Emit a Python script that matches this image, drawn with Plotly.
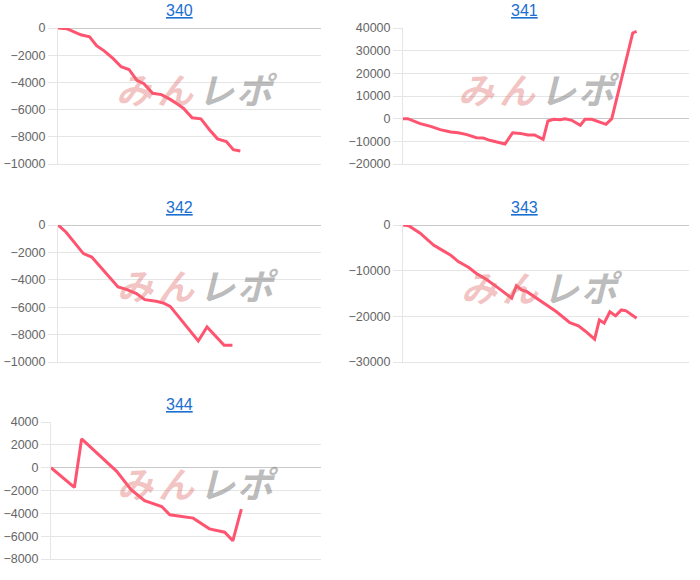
import plotly.graph_objects as go

# ---------------- data ----------------
titles = ["340", "341", "342", "343", "344"]

x340 = [0, 1.0, 2.6, 3.6, 4.4, 5.3, 6.3, 7.2, 8.1, 9.0, 9.8, 10.8, 11.8, 12.8, 13.7, 14.3, 15.3, 16.3, 17.3, 18.2, 19.2, 20.0, 20.8]
y340 = [0, -50, -500, -650, -1300, -1700, -2250, -2850, -3050, -3850, -4100, -4800, -4900, -5250, -5630, -5900, -6600, -6680, -7500, -8150, -8350, -8950, -9050]

x341 = [0, 0.5, 1.8, 2.9, 3.9, 5.0, 5.8, 6.7, 7.7, 8.4, 9.1, 10.0, 10.7, 11.5, 12.3, 13.1, 13.8, 14.7, 15.2, 15.8, 16.5, 17.0, 17.7, 18.6, 19.1, 19.8, 20.5, 21.3, 21.9, 24.1, 24.5]
y341 = [0, 0, -2200, -3400, -4850, -5900, -6200, -7050, -8400, -8500, -9550, -10600, -11200, -6200, -6500, -7200, -7200, -9100, -1000, -300, -450, 0, -730, -2900, -300, -300, -1200, -2500, 0, 37800, 38500]

x342 = [0, 0.9, 2.9, 3.85, 6.85, 7.8, 8.95, 9.9, 11.2, 12.0, 12.8, 16.0, 17.0, 18.95, 19.9]
y342 = [0, -510, -2090, -2340, -4525, -4700, -5010, -5450, -5570, -5690, -5940, -8470, -7445, -8780, -8780]

x343 = [0, 0.6, 1.8, 3.2, 4.1, 5.0, 5.8, 6.9, 7.7, 8.8, 9.8, 10.5, 11.4, 11.9, 12.45, 13.0, 14.0, 15.1, 16.1, 17.5, 18.4, 19.1, 20.1, 20.6, 21.1, 21.7, 22.3, 22.9, 23.4, 24.5]
y343 = [0, -150, -1800, -4400, -5500, -6600, -8000, -9300, -10600, -12000, -13500, -14600, -16000, -13300, -14200, -14600, -16000, -17500, -19000, -21400, -22100, -23200, -25000, -20800, -21500, -19000, -19900, -18600, -18800, -20400]

x344 = [0, 2.6, 3.4, 7.3, 8.9, 10.4, 12.3, 13.2, 15.8, 16.7, 17.6, 19.3, 20.2, 21.15]
y344 = [0, -1730, 2520, -320, -1930, -2900, -3400, -4130, -4420, -4860, -5360, -5650, -6410, -3630]

xs = [x340, x341, x342, x343, x344]
ys = [y340, y341, y342, y343, y344]

y_ranges = [(-10000, 0), (-20000, 40000), (-10000, 0), (-30000, 0), (-8000, 4000)]
y_dticks = [2000, 10000, 2000, 10000, 2000]

watermark_chars = ["み", "ん", "レ", "ポ"]

# ---------------- layout geometry ----------------
W, H = 700, 580
# plot boxes in pixels: (left, right, top, bottom)
boxes = [
    (58, 321, 28, 164),
    (403, 689, 28, 164),
    (58, 321, 225, 362),
    (403, 689, 225, 362),
    (51, 321, 422, 559),
]
title_pos = [(179.5, 10.5), (524.7, 10.5), (179.5, 207.5), (524.7, 207.5), (179.5, 404.5)]
wm_pos = [(196, 88), (538, 88), (197, 284), (541, 286), (197, 482)]
wm_offsets = [-62, -21, 20, 61]
wm_colors = ["rgba(226,110,110,0.42)", "rgba(226,110,110,0.42)",
             "rgba(130,130,130,0.55)", "rgba(130,130,130,0.55)"]

LINE = "rgb(255,84,112)"
GRID = "#e5e5e5"
FONT = "Liberation Sans, Arial, sans-serif"

fig = go.Figure()
layout = dict(
    width=W, height=H,
    margin=dict(l=0, r=0, t=0, b=0, pad=0, autoexpand=False),
    paper_bgcolor="white", plot_bgcolor="white",
    showlegend=False,
    font=dict(family=FONT, size=12, color="#666666"),
)
annotations = []

for i in range(5):
    n = "" if i == 0 else str(i + 1)
    L, R, T, B = boxes[i]
    xd = [L / W, R / W]
    yd = [1 - B / H, 1 - T / H]

    wx, wy = wm_pos[i]
    for ch, off, col in zip(watermark_chars, wm_offsets, wm_colors):
        annotations.append(dict(
            x=(wx + off) / W, y=1 - wy / H, xref="paper", yref="paper",
            text="<b><i>" + ch + "</i></b>",
            showarrow=False, xanchor="center", yanchor="middle",
            font=dict(family="Noto Sans CJK JP", size=36, color=col),
        ))

    fig.add_trace(go.Scatter(
        x=xs[i], y=ys[i], mode="lines",
        line=dict(color=LINE, width=3),
        xaxis="x" + n, yaxis="y" + n, hoverinfo="skip",
    ))

    layout["xaxis" + n] = dict(
        domain=xd, anchor="y" + n, range=[0, 30],
        showticklabels=False, showgrid=False, zeroline=False,
        showline=True, linecolor=GRID, linewidth=1, ticks="",
        fixedrange=True, automargin=False,
    )
    y0, y1 = y_ranges[i]
    layout["yaxis" + n] = dict(
        domain=yd, anchor="x" + n, range=[y0, y1],
        dtick=y_dticks[i], tick0=0, tickformat="d",
        showgrid=True, gridcolor=GRID, gridwidth=1,
        zeroline=True, zerolinecolor="#c8c8c8", zerolinewidth=1,
        showline=True, linecolor=GRID, linewidth=1,
        ticks="outside", ticklen=9, tickcolor=GRID,
        tickfont=dict(family=FONT, size=12.5, color="#666666"),
        fixedrange=True, automargin=False,
    )

    tx, ty = title_pos[i]
    annotations.append(dict(
        x=tx / W, y=1 - ty / H, xref="paper", yref="paper",
        text="<u>" + titles[i] + "</u>",
        showarrow=False, xanchor="center", yanchor="middle",
        font=dict(family=FONT, size=16, color="#1a6fd0"),
    ))

layout["annotations"] = annotations
fig.update_layout(**layout)
fig.write_html(
    "out.html",
    config={"displayModeBar": False},
    post_script="document.body.style.margin='0';document.body.style.overflow='hidden';",
)
